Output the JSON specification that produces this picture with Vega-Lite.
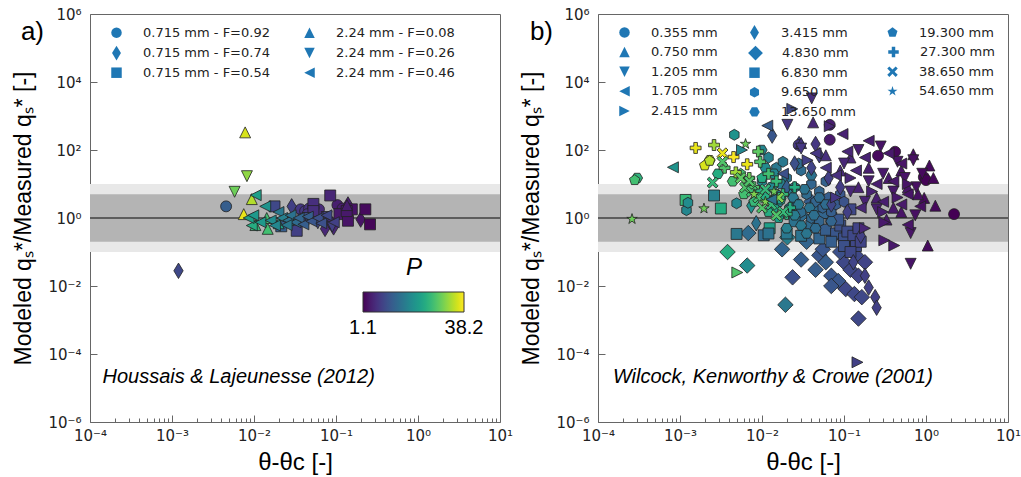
{
  "$schema": "https://vega.github.io/schema/vega-lite/v6.json",
  "padding": {"left": 12, "top": 6, "right": 0, "bottom": 0},
  "background": "white",
  "config": {
    "view": {"stroke": "#666", "strokeWidth": 1},
    "axis": {"grid": false, "domain": false, "labelFont": "DejaVu Sans", "labelFontSize": 15, "labelColor": "#222", "labelFlush": false, "labelOverlap": false, "tickColor": "#666", "tickWidth": 1, "titleFont": "Liberation Sans", "titleFontWeight": "normal", "titleColor": "black"},
    "legend": {"padding": 0}
  },
  "datasets": {
    "ha": [
      {"x":0.00457,"y":2.2,"s":"0.715 mm - F=0.92","p":12},
      {"x":0.037,"y":1.8,"s":"0.715 mm - F=0.92","p":7},
      {"x":0.042,"y":1.6,"s":"0.715 mm - F=0.92","p":7},
      {"x":0.047,"y":1.9,"s":"0.715 mm - F=0.92","p":6.5},
      {"x":0.055,"y":1.7,"s":"0.715 mm - F=0.92","p":6},
      {"x":0.062,"y":1.8,"s":"0.715 mm - F=0.92","p":5.5},
      {"x":0.104,"y":2.4,"s":"0.715 mm - F=0.92","p":4},
      {"x":0.12,"y":1.9,"s":"0.715 mm - F=0.92","p":3.8},
      {"x":0.045,"y":1.3,"s":"0.715 mm - F=0.92","p":7},
      {"x":0.0012,"y":0.028,"s":"0.715 mm - F=0.74","p":9},
      {"x":0.0288,"y":2.2,"s":"0.715 mm - F=0.74","p":8},
      {"x":0.2,"y":0.9,"s":"0.715 mm - F=0.74","p":3},
      {"x":0.0735,"y":0.48,"s":"0.715 mm - F=0.74","p":5},
      {"x":0.0935,"y":0.53,"s":"0.715 mm - F=0.74","p":5},
      {"x":0.14,"y":2.5,"s":"0.715 mm - F=0.74","p":4},
      {"x":0.085,"y":0.8,"s":"0.715 mm - F=0.74","p":6},
      {"x":0.0178,"y":2.2,"s":"0.715 mm - F=0.54","p":9},
      {"x":0.0215,"y":0.57,"s":"0.715 mm - F=0.54","p":12},
      {"x":0.0332,"y":0.42,"s":"0.715 mm - F=0.54","p":8},
      {"x":0.053,"y":2.6,"s":"0.715 mm - F=0.54","p":6},
      {"x":0.053,"y":1.6,"s":"0.715 mm - F=0.54","p":6},
      {"x":0.085,"y":4.6,"s":"0.715 mm - F=0.54","p":5},
      {"x":0.11,"y":1.3,"s":"0.715 mm - F=0.54","p":3.5},
      {"x":0.14,"y":0.83,"s":"0.715 mm - F=0.54","p":3},
      {"x":0.156,"y":1.8,"s":"0.715 mm - F=0.54","p":3},
      {"x":0.228,"y":1.8,"s":"0.715 mm - F=0.54","p":2},
      {"x":0.26,"y":0.65,"s":"0.715 mm - F=0.54","p":1.5},
      {"x":0.135,"y":1.6,"s":"0.715 mm - F=0.54","p":3.5},
      {"x":0.04,"y":0.9,"s":"0.715 mm - F=0.54","p":8},
      {"x":0.0078,"y":330,"s":"2.24 mm - F=0.08","p":36},
      {"x":0.0075,"y":1.3,"s":"2.24 mm - F=0.08","p":37},
      {"x":0.0094,"y":3.6,"s":"2.24 mm - F=0.08","p":34},
      {"x":0.0143,"y":1.0,"s":"2.24 mm - F=0.08","p":27},
      {"x":0.0147,"y":0.48,"s":"2.24 mm - F=0.08","p":27},
      {"x":0.0104,"y":0.62,"s":"2.24 mm - F=0.08","p":26},
      {"x":0.136,"y":2.4,"s":"2.24 mm - F=0.08","p":4},
      {"x":0.02,"y":0.7,"s":"2.24 mm - F=0.08","p":22},
      {"x":0.03,"y":0.95,"s":"2.24 mm - F=0.08","p":16},
      {"x":0.0082,"y":17,"s":"2.24 mm - F=0.26","p":32},
      {"x":0.0058,"y":5.9,"s":"2.24 mm - F=0.26","p":30},
      {"x":0.077,"y":1.07,"s":"2.24 mm - F=0.26","p":8},
      {"x":0.06,"y":0.7,"s":"2.24 mm - F=0.26","p":9},
      {"x":0.09,"y":0.55,"s":"2.24 mm - F=0.26","p":8},
      {"x":0.045,"y":1.0,"s":"2.24 mm - F=0.26","p":10},
      {"x":0.0105,"y":4.7,"s":"2.24 mm - F=0.46","p":22},
      {"x":0.0137,"y":2.2,"s":"2.24 mm - F=0.46","p":20},
      {"x":0.0094,"y":0.6,"s":"2.24 mm - F=0.46","p":24},
      {"x":0.0086,"y":1.0,"s":"2.24 mm - F=0.46","p":22},
      {"x":0.0098,"y":1.2,"s":"2.24 mm - F=0.46","p":21},
      {"x":0.012,"y":0.75,"s":"2.24 mm - F=0.46","p":21},
      {"x":0.016,"y":0.85,"s":"2.24 mm - F=0.46","p":19},
      {"x":0.0199,"y":1.5,"s":"2.24 mm - F=0.46","p":16},
      {"x":0.018,"y":0.6,"s":"2.24 mm - F=0.46","p":18},
      {"x":0.022,"y":1.0,"s":"2.24 mm - F=0.46","p":17},
      {"x":0.0261,"y":0.85,"s":"2.24 mm - F=0.46","p":15},
      {"x":0.028,"y":1.2,"s":"2.24 mm - F=0.46","p":15},
      {"x":0.032,"y":0.75,"s":"2.24 mm - F=0.46","p":14},
      {"x":0.035,"y":1.0,"s":"2.24 mm - F=0.46","p":13},
      {"x":0.04,"y":0.65,"s":"2.24 mm - F=0.46","p":12},
      {"x":0.0453,"y":1.1,"s":"2.24 mm - F=0.46","p":12},
      {"x":0.05,"y":0.8,"s":"2.24 mm - F=0.46","p":11},
      {"x":0.06,"y":1.0,"s":"2.24 mm - F=0.46","p":10},
      {"x":0.066,"y":0.7,"s":"2.24 mm - F=0.46","p":10},
      {"x":0.0766,"y":1.2,"s":"2.24 mm - F=0.46","p":9},
      {"x":0.094,"y":0.75,"s":"2.24 mm - F=0.46","p":8},
      {"x":0.025,"y":0.62,"s":"2.24 mm - F=0.46","p":16}
    ],
    "wk": [
      {"x":0.0068,"y":0.36,"s":"4.830 mm","p":14},
      {"x":0.0038,"y":0.1,"s":"4.830 mm","p":24},
      {"x":0.0066,"y":0.04,"s":"4.830 mm","p":19},
      {"x":0.0176,"y":0.12,"s":"4.830 mm","p":13},
      {"x":0.0236,"y":0.018,"s":"4.830 mm","p":10},
      {"x":0.0193,"y":0.0028,"s":"4.830 mm","p":16},
      {"x":0.0204,"y":0.27,"s":"4.830 mm","p":17},
      {"x":0.05,"y":0.08,"s":"4.830 mm","p":11},
      {"x":0.06,"y":0.05,"s":"4.830 mm","p":12},
      {"x":0.045,"y":0.03,"s":"4.830 mm","p":12},
      {"x":0.07,"y":0.02,"s":"4.830 mm","p":11},
      {"x":0.085,"y":0.014,"s":"4.830 mm","p":11},
      {"x":0.055,"y":0.12,"s":"4.830 mm","p":11},
      {"x":0.1,"y":0.05,"s":"4.830 mm","p":9},
      {"x":0.12,"y":0.03,"s":"4.830 mm","p":9},
      {"x":0.15,"y":0.02,"s":"4.830 mm","p":8.5},
      {"x":0.105,"y":0.0081,"s":"4.830 mm","p":9},
      {"x":0.134,"y":0.0058,"s":"4.830 mm","p":9},
      {"x":0.165,"y":0.0047,"s":"4.830 mm","p":9},
      {"x":0.15,"y":0.0011,"s":"4.830 mm","p":9},
      {"x":0.09,"y":0.1,"s":"4.830 mm","p":10},
      {"x":0.14,"y":0.08,"s":"4.830 mm","p":9},
      {"x":0.18,"y":0.05,"s":"4.830 mm","p":8.5},
      {"x":0.035,"y":0.2,"s":"4.830 mm","p":13},
      {"x":0.075,"y":0.3,"s":"4.830 mm","p":11},
      {"x":0.11,"y":0.2,"s":"4.830 mm","p":9.5},
      {"x":0.03,"y":1.2,"s":"4.830 mm","p":14},
      {"x":0.04,"y":3,"s":"4.830 mm","p":12},
      {"x":0.07,"y":0.01,"s":"4.830 mm","p":11},
      {"x":0.03,"y":0.06,"s":"4.830 mm","p":12},
      {"x":0.00117,"y":3.4,"s":"6.830 mm","p":26},
      {"x":0.0026,"y":4.6,"s":"6.830 mm","p":17},
      {"x":0.00315,"y":1.9,"s":"6.830 mm","p":24},
      {"x":0.0049,"y":0.34,"s":"6.830 mm","p":16},
      {"x":0.0105,"y":0.31,"s":"6.830 mm","p":14},
      {"x":0.0124,"y":0.5,"s":"6.830 mm","p":22},
      {"x":0.012,"y":0.35,"s":"6.830 mm","p":15},
      {"x":0.12,"y":1.8,"s":"6.830 mm","p":9},
      {"x":0.03,"y":0.3,"s":"6.830 mm","p":15},
      {"x":0.04,"y":0.6,"s":"6.830 mm","p":14},
      {"x":0.05,"y":0.25,"s":"6.830 mm","p":13},
      {"x":0.06,"y":0.45,"s":"6.830 mm","p":12},
      {"x":0.07,"y":1.0,"s":"6.830 mm","p":12},
      {"x":0.08,"y":0.35,"s":"6.830 mm","p":11},
      {"x":0.09,"y":0.6,"s":"6.830 mm","p":10},
      {"x":0.1,"y":0.25,"s":"6.830 mm","p":10},
      {"x":0.11,"y":0.4,"s":"6.830 mm","p":9.5},
      {"x":0.13,"y":0.3,"s":"6.830 mm","p":9},
      {"x":0.15,"y":0.5,"s":"6.830 mm","p":8.5},
      {"x":0.14,"y":0.15,"s":"6.830 mm","p":9},
      {"x":0.16,"y":0.2,"s":"6.830 mm","p":8.5},
      {"x":0.1,"y":0.15,"s":"6.830 mm","p":10},
      {"x":0.085,"y":0.9,"s":"6.830 mm","p":11},
      {"x":0.055,"y":1.4,"s":"6.830 mm","p":13},
      {"x":0.045,"y":2.2,"s":"6.830 mm","p":14},
      {"x":0.02,"y":0.35,"s":"6.830 mm","p":16},
      {"x":0.025,"y":0.8,"s":"6.830 mm","p":15},
      {"x":0.07,"y":0.2,"s":"6.830 mm","p":12},
      {"x":0.12,"y":0.1,"s":"6.830 mm","p":9},
      {"x":0.0049,"y":2.7,"s":"9.650 mm","p":18},
      {"x":0.0012,"y":1.7,"s":"9.650 mm","p":18},
      {"x":0.00125,"y":2.8,"s":"9.650 mm","p":19},
      {"x":0.0046,"y":280,"s":"9.650 mm","p":20},
      {"x":0.012,"y":60,"s":"9.650 mm","p":17},
      {"x":0.015,"y":30,"s":"9.650 mm","p":16},
      {"x":0.02,"y":15,"s":"9.650 mm","p":15},
      {"x":0.018,"y":45,"s":"9.650 mm","p":16},
      {"x":0.025,"y":8,"s":"9.650 mm","p":15},
      {"x":0.03,"y":25,"s":"9.650 mm","p":14},
      {"x":0.035,"y":5,"s":"9.650 mm","p":14},
      {"x":0.04,"y":10,"s":"9.650 mm","p":13},
      {"x":0.045,"y":3,"s":"9.650 mm","p":13},
      {"x":0.05,"y":6,"s":"9.650 mm","p":13},
      {"x":0.055,"y":2,"s":"9.650 mm","p":12.5},
      {"x":0.065,"y":4,"s":"9.650 mm","p":12},
      {"x":0.07,"y":1.5,"s":"9.650 mm","p":12},
      {"x":0.08,"y":2.5,"s":"9.650 mm","p":11.5},
      {"x":0.09,"y":5,"s":"9.650 mm","p":11},
      {"x":0.025,"y":3,"s":"9.650 mm","p":15},
      {"x":0.03,"y":1.5,"s":"9.650 mm","p":14},
      {"x":0.015,"y":5,"s":"9.650 mm","p":16.5},
      {"x":0.01,"y":12,"s":"9.650 mm","p":18},
      {"x":0.022,"y":2,"s":"9.650 mm","p":15},
      {"x":0.06,"y":12,"s":"9.650 mm","p":12.5},
      {"x":0.028,"y":40,"s":"9.650 mm","p":14},
      {"x":0.04,"y":1,"s":"9.650 mm","p":13.5},
      {"x":0.1,"y":3,"s":"9.650 mm","p":10.5},
      {"x":0.05,"y":0.8,"s":"9.650 mm","p":13},
      {"x":0.0003,"y":15,"s":"13.650 mm","p":25},
      {"x":0.0099,"y":100,"s":"13.650 mm","p":18},
      {"x":0.0029,"y":20,"s":"13.650 mm","p":24},
      {"x":0.0044,"y":12,"s":"13.650 mm","p":27},
      {"x":0.0023,"y":50,"s":"13.650 mm","p":35},
      {"x":0.011,"y":30,"s":"13.650 mm","p":19},
      {"x":0.014,"y":20,"s":"13.650 mm","p":18},
      {"x":0.017,"y":10,"s":"13.650 mm","p":17},
      {"x":0.02,"y":6,"s":"13.650 mm","p":17},
      {"x":0.024,"y":4,"s":"13.650 mm","p":16},
      {"x":0.028,"y":2.5,"s":"13.650 mm","p":16},
      {"x":0.033,"y":7,"s":"13.650 mm","p":15},
      {"x":0.038,"y":2,"s":"13.650 mm","p":15},
      {"x":0.043,"y":1.2,"s":"13.650 mm","p":14.5},
      {"x":0.05,"y":4,"s":"13.650 mm","p":14},
      {"x":0.06,"y":2.5,"s":"13.650 mm","p":14},
      {"x":0.07,"y":0.8,"s":"13.650 mm","p":13},
      {"x":0.025,"y":1.2,"s":"13.650 mm","p":16.5},
      {"x":0.03,"y":0.6,"s":"13.650 mm","p":16},
      {"x":0.016,"y":3,"s":"13.650 mm","p":18},
      {"x":0.013,"y":8,"s":"13.650 mm","p":18.5},
      {"x":0.045,"y":0.5,"s":"13.650 mm","p":14},
      {"x":0.035,"y":0.35,"s":"13.650 mm","p":15.5},
      {"x":0.02,"y":0.5,"s":"13.650 mm","p":17},
      {"x":0.04,"y":18,"s":"13.650 mm","p":15},
      {"x":0.0133,"y":265,"s":"3.415 mm","p":11},
      {"x":0.0283,"y":150,"s":"3.415 mm","p":9},
      {"x":0.0074,"y":2.3,"s":"3.415 mm","p":20},
      {"x":0.2,"y":0.009,"s":"3.415 mm","p":8},
      {"x":0.24,"y":0.0047,"s":"3.415 mm","p":8},
      {"x":0.25,"y":0.0023,"s":"3.415 mm","p":8},
      {"x":0.05,"y":70,"s":"3.415 mm","p":8},
      {"x":0.04,"y":30,"s":"3.415 mm","p":8.5},
      {"x":0.065,"y":15,"s":"3.415 mm","p":8},
      {"x":0.09,"y":8,"s":"3.415 mm","p":7.5},
      {"x":0.11,"y":1.5,"s":"3.415 mm","p":8},
      {"x":0.16,"y":0.3,"s":"3.415 mm","p":8},
      {"x":0.13,"y":0.05,"s":"3.415 mm","p":8.5},
      {"x":0.07,"y":2.5,"s":"3.415 mm","p":9},
      {"x":0.025,"y":40,"s":"3.415 mm","p":10},
      {"x":0.02,"y":8,"s":"3.415 mm","p":12},
      {"x":0.18,"y":0.02,"s":"3.415 mm","p":8},
      {"x":0.045,"y":150,"s":"3.415 mm","p":7},
      {"x":0.0085,"y":0.7,"s":"3.415 mm","p":15},
      {"x":0.00028,"y":13,"s":"19.300 mm","p":27},
      {"x":0.002,"y":35,"s":"19.300 mm","p":36},
      {"x":0.0023,"y":48,"s":"19.300 mm","p":34},
      {"x":0.0055,"y":20,"s":"19.300 mm","p":27},
      {"x":0.007,"y":10,"s":"19.300 mm","p":26},
      {"x":0.009,"y":6,"s":"19.300 mm","p":25},
      {"x":0.008,"y":3,"s":"19.300 mm","p":26},
      {"x":0.011,"y":4,"s":"19.300 mm","p":24},
      {"x":0.014,"y":2,"s":"19.300 mm","p":23},
      {"x":0.006,"y":5,"s":"19.300 mm","p":27},
      {"x":0.012,"y":1.5,"s":"19.300 mm","p":24},
      {"x":0.016,"y":1,"s":"19.300 mm","p":22},
      {"x":0.017,"y":3.5,"s":"19.300 mm","p":22},
      {"x":0.01,"y":15,"s":"19.300 mm","p":24},
      {"x":0.00155,"y":115,"s":"27.300 mm","p":37},
      {"x":0.0026,"y":140,"s":"27.300 mm","p":33},
      {"x":0.0045,"y":62,"s":"27.300 mm","p":38},
      {"x":0.0066,"y":38,"s":"27.300 mm","p":37},
      {"x":0.0048,"y":22,"s":"27.300 mm","p":33},
      {"x":0.0035,"y":30,"s":"27.300 mm","p":28},
      {"x":0.009,"y":90,"s":"27.300 mm","p":29},
      {"x":0.0095,"y":45,"s":"27.300 mm","p":28},
      {"x":0.012,"y":20,"s":"27.300 mm","p":27},
      {"x":0.015,"y":12,"s":"27.300 mm","p":26},
      {"x":0.018,"y":5,"s":"27.300 mm","p":26},
      {"x":0.022,"y":2,"s":"27.300 mm","p":24},
      {"x":0.025,"y":8,"s":"27.300 mm","p":24},
      {"x":0.02,"y":1.3,"s":"27.300 mm","p":25},
      {"x":0.008,"y":8,"s":"27.300 mm","p":28},
      {"x":0.013,"y":3,"s":"27.300 mm","p":27},
      {"x":0.007,"y":15,"s":"27.300 mm","p":30},
      {"x":0.0033,"y":80,"s":"38.650 mm","p":37},
      {"x":0.0033,"y":45,"s":"38.650 mm","p":28},
      {"x":0.0025,"y":11,"s":"38.650 mm","p":26},
      {"x":0.0062,"y":8,"s":"38.650 mm","p":28},
      {"x":0.0075,"y":6,"s":"38.650 mm","p":27},
      {"x":0.009,"y":4,"s":"38.650 mm","p":27},
      {"x":0.011,"y":7,"s":"38.650 mm","p":26},
      {"x":0.013,"y":2.5,"s":"38.650 mm","p":26},
      {"x":0.016,"y":4,"s":"38.650 mm","p":31},
      {"x":0.018,"y":1.5,"s":"38.650 mm","p":26},
      {"x":0.007,"y":12,"s":"38.650 mm","p":28},
      {"x":0.0055,"y":15,"s":"38.650 mm","p":29},
      {"x":0.01,"y":2,"s":"38.650 mm","p":28},
      {"x":0.015,"y":1.2,"s":"38.650 mm","p":28},
      {"x":0.00026,"y":0.93,"s":"54.650 mm","p":30},
      {"x":0.00196,"y":1.9,"s":"54.650 mm","p":30},
      {"x":0.0063,"y":150,"s":"54.650 mm","p":30},
      {"x":0.008,"y":5,"s":"54.650 mm","p":31},
      {"x":0.011,"y":3,"s":"54.650 mm","p":31},
      {"x":0.014,"y":6,"s":"54.650 mm","p":30},
      {"x":0.067,"y":550,"s":"0.355 mm","p":4},
      {"x":0.067,"y":200,"s":"0.355 mm","p":3.5},
      {"x":0.26,"y":68,"s":"0.355 mm","p":2},
      {"x":0.42,"y":89,"s":"0.355 mm","p":1.8},
      {"x":0.94,"y":16,"s":"0.355 mm","p":1.5},
      {"x":2.2,"y":1.3,"s":"0.355 mm","p":1.1},
      {"x":0.028,"y":140,"s":"0.355 mm","p":7},
      {"x":1.0,"y":13,"s":"0.355 mm","p":1.3},
      {"x":0.042,"y":650,"s":"0.750 mm","p":5},
      {"x":1.1,"y":35,"s":"0.750 mm","p":2},
      {"x":1.23,"y":15,"s":"0.750 mm","p":1.8},
      {"x":0.95,"y":3.9,"s":"0.750 mm","p":2},
      {"x":1.3,"y":2.3,"s":"0.750 mm","p":1.8},
      {"x":1.05,"y":0.155,"s":"0.750 mm","p":2},
      {"x":0.7,"y":75,"s":"0.750 mm","p":2.5},
      {"x":0.5,"y":25,"s":"0.750 mm","p":3},
      {"x":0.35,"y":15,"s":"0.750 mm","p":3.5},
      {"x":0.2,"y":30,"s":"0.750 mm","p":4},
      {"x":0.15,"y":8,"s":"0.750 mm","p":4.5},
      {"x":0.6,"y":8,"s":"0.750 mm","p":3},
      {"x":0.8,"y":5,"s":"0.750 mm","p":2.5},
      {"x":0.25,"y":4,"s":"0.750 mm","p":4},
      {"x":0.4,"y":2,"s":"0.750 mm","p":3.5},
      {"x":0.12,"y":60,"s":"0.750 mm","p":5},
      {"x":0.09,"y":25,"s":"0.750 mm","p":5.5},
      {"x":0.5,"y":1.5,"s":"0.750 mm","p":3},
      {"x":0.33,"y":0.9,"s":"0.750 mm","p":3.5},
      {"x":0.06,"y":70,"s":"0.750 mm","p":6},
      {"x":0.03,"y":160,"s":"0.750 mm","p":7},
      {"x":0.0404,"y":3300,"s":"1.205 mm","p":6},
      {"x":0.0204,"y":550,"s":"1.205 mm","p":7},
      {"x":0.28,"y":127,"s":"1.205 mm","p":3},
      {"x":0.7,"y":50,"s":"1.205 mm","p":2.5},
      {"x":0.76,"y":8,"s":"1.205 mm","p":2.5},
      {"x":0.74,"y":1.2,"s":"1.205 mm","p":2.5},
      {"x":0.65,"y":0.045,"s":"1.205 mm","p":3},
      {"x":0.65,"y":0.36,"s":"1.205 mm","p":3},
      {"x":0.03,"y":110,"s":"1.205 mm","p":7},
      {"x":0.15,"y":100,"s":"1.205 mm","p":4},
      {"x":0.1,"y":40,"s":"1.205 mm","p":5},
      {"x":0.45,"y":45,"s":"1.205 mm","p":3},
      {"x":0.3,"y":20,"s":"1.205 mm","p":3.5},
      {"x":0.2,"y":12,"s":"1.205 mm","p":4},
      {"x":0.55,"y":15,"s":"1.205 mm","p":3},
      {"x":0.4,"y":6,"s":"1.205 mm","p":3.5},
      {"x":0.18,"y":3,"s":"1.205 mm","p":4.5},
      {"x":0.12,"y":6,"s":"1.205 mm","p":5},
      {"x":0.9,"y":20,"s":"1.205 mm","p":2},
      {"x":0.25,"y":1.8,"s":"1.205 mm","p":4},
      {"x":0.00082,"y":31,"s":"1.705 mm","p":20},
      {"x":0.0116,"y":520,"s":"1.705 mm","p":12},
      {"x":0.096,"y":295,"s":"1.705 mm","p":4.5},
      {"x":0.2,"y":186,"s":"1.705 mm","p":4},
      {"x":0.6,"y":0.63,"s":"1.705 mm","p":3},
      {"x":0.11,"y":90,"s":"1.705 mm","p":5},
      {"x":0.18,"y":60,"s":"1.705 mm","p":4.5},
      {"x":0.35,"y":80,"s":"1.705 mm","p":3.5},
      {"x":0.5,"y":40,"s":"1.705 mm","p":3},
      {"x":0.08,"y":18,"s":"1.705 mm","p":6},
      {"x":0.14,"y":25,"s":"1.705 mm","p":5},
      {"x":0.25,"y":10,"s":"1.705 mm","p":4},
      {"x":0.4,"y":12,"s":"1.705 mm","p":3.5},
      {"x":0.6,"y":5,"s":"1.705 mm","p":3},
      {"x":0.3,"y":3,"s":"1.705 mm","p":4},
      {"x":0.16,"y":2,"s":"1.705 mm","p":5},
      {"x":0.5,"y":2.5,"s":"1.705 mm","p":3.5},
      {"x":0.045,"y":80,"s":"1.705 mm","p":7},
      {"x":0.06,"y":30,"s":"1.705 mm","p":6.5},
      {"x":0.018,"y":20,"s":"1.705 mm","p":10},
      {"x":0.013,"y":3.5,"s":"1.705 mm","p":15},
      {"x":0.85,"y":2.2,"s":"1.705 mm","p":2.5},
      {"x":0.0234,"y":1620,"s":"2.415 mm","p":9},
      {"x":0.0057,"y":100,"s":"2.415 mm","p":18},
      {"x":0.005,"y":0.025,"s":"2.415 mm","p":28},
      {"x":0.146,"y":0.000057,"s":"2.415 mm","p":8},
      {"x":0.31,"y":0.22,"s":"2.415 mm","p":3.5},
      {"x":0.41,"y":0.155,"s":"2.415 mm","p":3.5},
      {"x":0.31,"y":0.74,"s":"2.415 mm","p":3.5},
      {"x":0.067,"y":500,"s":"2.415 mm","p":5},
      {"x":0.12,"y":15,"s":"2.415 mm","p":5},
      {"x":0.22,"y":6,"s":"2.415 mm","p":4.5},
      {"x":0.45,"y":4,"s":"2.415 mm","p":3.5},
      {"x":0.3,"y":1.5,"s":"2.415 mm","p":4},
      {"x":0.18,"y":0.5,"s":"2.415 mm","p":5},
      {"x":0.08,"y":4,"s":"2.415 mm","p":7},
      {"x":0.6,"y":10,"s":"2.415 mm","p":3},
      {"x":0.036,"y":50,"s":"2.415 mm","p":8}
    ]
  },
  "spacing": 98,
  "bounds": "flush",
  "resolve": {"scale": {"x": "independent", "y": "independent", "shape": "independent", "color": "independent"}, "legend": {"shape": "independent", "color": "independent"}},
  "hconcat": [
    {
      "width": 410,
      "height": 408,
      "layer": [
        {"data": {"values": [{}]}, "mark": {"type": "rect", "color": "#e8e8e8"},
         "encoding": {"x": {"datum": 0.0001, "type": "quantitative"}, "x2": {"datum": 10}, "y": {"datum": 0.1, "type": "quantitative"}, "y2": {"datum": 10}}},
        {"data": {"values": [{}]}, "mark": {"type": "rect", "color": "#b4b4b4"},
         "encoding": {"x": {"datum": 0.0001, "type": "quantitative"}, "x2": {"datum": 10}, "y": {"datum": 0.2, "type": "quantitative"}, "y2": {"datum": 5}}},
        {"data": {"values": [{}]}, "mark": {"type": "rule", "color": "#404040", "strokeWidth": 1.5},
         "encoding": {"y": {"datum": 1, "type": "quantitative"}}},
        {"data": {"name": "ha"},
         "mark": {"type": "point", "filled": true, "color": "#1f77b4", "stroke": "#222", "strokeWidth": 0.8, "opacity": 1, "size": 120},
         "encoding": {
           "x": {"field": "x", "type": "quantitative",
                 "scale": {"type": "log", "domain": [0.0001, 10], "nice": false},
                 "axis": {"values": [0.0001,0.0002,0.0003,0.0004,0.0005,0.0006,0.0007,0.0008,0.0009,0.001,0.002,0.003,0.004,0.005,0.006,0.007,0.008,0.009,0.01,0.02,0.03,0.04,0.05,0.06,0.07,0.08,0.09,0.1,0.2,0.3,0.4,0.5,0.6,0.7,0.8,0.9,1,2,3,4,5,6,7,8,9,10],
                          "labelExpr": "abs(log(datum.value)/LN10 - round(log(datum.value)/LN10)) < 0.01 ? ('10' + (round(log(datum.value)/LN10) < 0 ? '⁻' : '') + substring('⁰¹²³⁴⁵⁶⁷⁸⁹', abs(round(log(datum.value)/LN10)), abs(round(log(datum.value)/LN10)) + 1)) : ''",
                          "tickSize": {"condition": {"test": "abs(log(datum.value)/LN10 - round(log(datum.value)/LN10)) < 0.01", "value": -7}, "value": -4},
                          "labelPadding": 13, "title": "θ-θc [-]", "titleFontSize": 24, "titlePadding": 4}},
           "y": {"field": "y", "type": "quantitative",
                 "scale": {"type": "log", "domain": [0.000001, 1000000], "nice": false},
                 "axis": {"values": [0.000001, 0.0001, 0.01, 1, 100, 10000, 1000000],
                          "labelExpr": "'10' + (round(log(datum.value)/LN10) < 0 ? '⁻' : '') + substring('⁰¹²³⁴⁵⁶⁷⁸⁹', abs(round(log(datum.value)/LN10)), abs(round(log(datum.value)/LN10)) + 1)",
                          "tickSize": -7, "labelPadding": 16, "title": "Modeled qₛ*/Measured qₛ* [-]", "titleFontSize": 23, "titlePadding": 12}},
           "shape": {"field": "s", "type": "nominal",
                     "scale": {"domain": ["0.715 mm - F=0.92", "0.715 mm - F=0.74", "0.715 mm - F=0.54", "2.24 mm - F=0.08", "2.24 mm - F=0.26", "2.24 mm - F=0.46"],
                               "range": ["M1,0L0.924,0.383L0.707,0.707L0.383,0.924L0,1L-0.383,0.924L-0.707,0.707L-0.924,0.383L-1,0L-0.924,-0.383L-0.707,-0.707L-0.383,-0.924L0,-1L0.383,-0.924L0.707,-0.707L0.924,-0.383Z", "M0,-1.414L0.85,0L0,1.414L-0.85,0Z", "M-1,-1L1,-1L1,1L-1,1Z", "M0,-1L1,1L-1,1Z", "M0,1L1,-1L-1,-1Z", "M-1,0L1,-1L1,1Z"]},
                     "legend": {"orient": "none", "legendX": 20, "legendY": 12, "columns": 2, "gridAlign": "each", "title": null, "labelFont": "DejaVu Sans", "labelFontSize": 13, "labelColor": "#222", "symbolSize": 110, "labelOffset": 20, "columnPadding": 33, "rowPadding": 5.6,
                                "symbolFillColor": "#1f77b4", "symbolStrokeColor": "#1f77b4", "symbolStrokeWidth": 0, "symbolOpacity": 1}},
           "color": {"field": "p", "type": "quantitative",
                     "scale": {"scheme": "viridis", "domain": [1.1, 38.2]},
                     "legend": {"orient": "none", "legendX": 273, "legendY": 242, "direction": "horizontal", "gradientLength": 101, "gradientThickness": 20, "title": "P", "titleFont": "Liberation Sans", "titleFontSize": 24, "titleFontStyle": "italic", "titleFontWeight": "normal", "titleAnchor": "middle", "titleColor": "black", "titlePadding": 12, "values": [1.1001, 38.1999], "format": ".1f", "labelFont": "Liberation Sans", "labelFontSize": 20, "labelColor": "black", "labelOffset": 6, "gradientStrokeColor": "#333", "gradientStrokeWidth": 1}}
         }},
        {"data": {"values": [{}]}, "mark": {"type": "text", "font": "Liberation Sans", "fontSize": 20, "fontStyle": "italic", "align": "left", "baseline": "middle", "color": "black"},
         "encoding": {"x": {"datum": 0.000142, "type": "quantitative"}, "y": {"datum": 0.000021, "type": "quantitative"}, "text": {"value": "Houssais & Lajeunesse (2012)"}}},
        {"data": {"values": [{}]}, "mark": {"type": "text", "font": "Liberation Sans", "fontSize": 26, "align": "right", "baseline": "middle", "color": "black", "dx": -46, "dy": 18},
         "encoding": {"x": {"datum": 0.0001, "type": "quantitative"}, "y": {"datum": 1000000, "type": "quantitative"}, "text": {"value": "a)"}}}
      ]
    },
    {
      "width": 410,
      "height": 408,
      "layer": [
        {"data": {"values": [{}]}, "mark": {"type": "rect", "color": "#e8e8e8"},
         "encoding": {"x": {"datum": 0.0001, "type": "quantitative"}, "x2": {"datum": 10}, "y": {"datum": 0.1, "type": "quantitative"}, "y2": {"datum": 10}}},
        {"data": {"values": [{}]}, "mark": {"type": "rect", "color": "#b4b4b4"},
         "encoding": {"x": {"datum": 0.0001, "type": "quantitative"}, "x2": {"datum": 10}, "y": {"datum": 0.2, "type": "quantitative"}, "y2": {"datum": 5}}},
        {"data": {"values": [{}]}, "mark": {"type": "rule", "color": "#404040", "strokeWidth": 1.5},
         "encoding": {"y": {"datum": 1, "type": "quantitative"}}},
        {"data": {"name": "wk"},
         "mark": {"type": "point", "filled": true, "color": "#1f77b4", "stroke": "#222", "strokeWidth": 0.8, "opacity": 1, "size": 120},
         "encoding": {
           "x": {"field": "x", "type": "quantitative",
                 "scale": {"type": "log", "domain": [0.0001, 10], "nice": false},
                 "axis": {"values": [0.0001,0.0002,0.0003,0.0004,0.0005,0.0006,0.0007,0.0008,0.0009,0.001,0.002,0.003,0.004,0.005,0.006,0.007,0.008,0.009,0.01,0.02,0.03,0.04,0.05,0.06,0.07,0.08,0.09,0.1,0.2,0.3,0.4,0.5,0.6,0.7,0.8,0.9,1,2,3,4,5,6,7,8,9,10],
                          "labelExpr": "abs(log(datum.value)/LN10 - round(log(datum.value)/LN10)) < 0.01 ? ('10' + (round(log(datum.value)/LN10) < 0 ? '⁻' : '') + substring('⁰¹²³⁴⁵⁶⁷⁸⁹', abs(round(log(datum.value)/LN10)), abs(round(log(datum.value)/LN10)) + 1)) : ''",
                          "tickSize": {"condition": {"test": "abs(log(datum.value)/LN10 - round(log(datum.value)/LN10)) < 0.01", "value": -7}, "value": -4},
                          "labelPadding": 13, "title": "θ-θc [-]", "titleFontSize": 24, "titlePadding": 4}},
           "y": {"field": "y", "type": "quantitative",
                 "scale": {"type": "log", "domain": [0.000001, 1000000], "nice": false},
                 "axis": {"values": [0.000001, 0.0001, 0.01, 1, 100, 10000, 1000000],
                          "labelExpr": "'10' + (round(log(datum.value)/LN10) < 0 ? '⁻' : '') + substring('⁰¹²³⁴⁵⁶⁷⁸⁹', abs(round(log(datum.value)/LN10)), abs(round(log(datum.value)/LN10)) + 1)",
                          "tickSize": -7, "labelPadding": 16, "title": "Modeled qₛ*/Measured qₛ* [-]", "titleFontSize": 23, "titlePadding": 12}},
           "shape": {"field": "s", "type": "nominal",
                     "scale": {"domain": ["0.355 mm", "0.750 mm", "1.205 mm", "1.705 mm", "2.415 mm", "3.415 mm", "4.830 mm", "6.830 mm", "9.650 mm", "13.650 mm", "19.300 mm", "27.300 mm", "38.650 mm", "54.650 mm"],
                               "range": ["M1,0L0.924,0.383L0.707,0.707L0.383,0.924L0,1L-0.383,0.924L-0.707,0.707L-0.924,0.383L-1,0L-0.924,-0.383L-0.707,-0.707L-0.383,-0.924L0,-1L0.383,-0.924L0.707,-0.707L0.924,-0.383Z", "M0,-1L1,1L-1,1Z", "M0,1L1,-1L-1,-1Z", "M-1,0L1,-1L1,1Z", "M1,0L-1,-1L-1,1Z", "M0,-1.414L0.85,0L0,1.414L-0.85,0Z", "M0,-1.414L1.414,0L0,1.414L-1.414,0Z", "M-1,-1L1,-1L1,1L-1,1Z", "M0,-1L0.866,-0.5L0.866,0.5L0,1L-0.866,0.5L-0.866,-0.5Z", "M-1,0L-0.5,-0.866L0.5,-0.866L1,0L0.5,0.866L-0.5,0.866Z", "M0,-1L0.951,-0.309L0.588,0.809L-0.588,0.809L-0.951,-0.309Z", "M-0.33,-1L0.33,-1L0.33,-0.33L1,-0.33L1,0.33L0.33,0.33L0.33,1L-0.33,1L-0.33,0.33L-1,0.33L-1,-0.33L-0.33,-0.33Z", "M-1,-0.6L-0.6,-1L0,-0.4L0.6,-1L1,-0.6L0.4,0L1,0.6L0.6,1L0,0.4L-0.6,1L-1,0.6L-0.4,0Z", "M0,-1L0.2245,-0.309L0.951,-0.309L0.363,0.118L0.588,0.809L0,0.382L-0.588,0.809L-0.363,0.118L-0.951,-0.309L-0.2245,-0.309Z"]},
                     "legend": {"orient": "none", "legendX": 20, "legendY": 12, "columns": 3, "gridAlign": "none", "title": null, "labelFont": "DejaVu Sans", "labelFontSize": 13, "labelColor": "#222", "symbolSize": 110, "labelOffset": 20, "columnPadding": 30, "rowPadding": 5.6,
                                "symbolFillColor": "#1f77b4", "symbolStrokeColor": "#1f77b4", "symbolStrokeWidth": 0, "symbolOpacity": 1}},
           "color": {"field": "p", "type": "quantitative",
                     "scale": {"scheme": "viridis", "domain": [1.1, 38.2]},
                     "legend": null}
         }},
        {"data": {"values": [{}]}, "mark": {"type": "text", "font": "Liberation Sans", "fontSize": 20, "fontStyle": "italic", "align": "left", "baseline": "middle", "color": "black"},
         "encoding": {"x": {"datum": 0.000152, "type": "quantitative"}, "y": {"datum": 0.000021, "type": "quantitative"}, "text": {"value": "Wilcock, Kenworthy & Crowe (2001)"}}},
        {"data": {"values": [{}]}, "mark": {"type": "text", "font": "Liberation Sans", "fontSize": 26, "align": "right", "baseline": "middle", "color": "black", "dx": -45, "dy": 18},
         "encoding": {"x": {"datum": 0.0001, "type": "quantitative"}, "y": {"datum": 1000000, "type": "quantitative"}, "text": {"value": "b)"}}}
      ]
    }
  ]
}
